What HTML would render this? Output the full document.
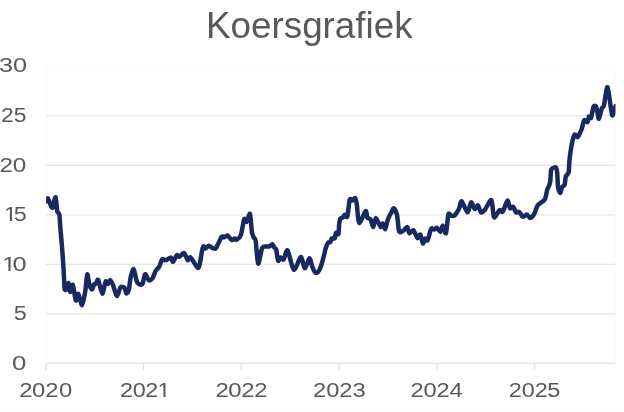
<!DOCTYPE html>
<html lang="nl">
<head>
<meta charset="utf-8">
<title>Koersgrafiek</title>
<style>
html,body{margin:0;padding:0;background:#fff;}
body{width:624px;height:412px;overflow:hidden;position:relative;font-family:"Liberation Sans",Arial,sans-serif;}
svg{position:absolute;left:0;top:0;display:block;}
.ttl{font-size:36.2px;fill:#595959;}
.lab text{font-size:21.1px;fill:#595959;}
.grid line{stroke:#e6e6e6;stroke-width:1.3;}
.axis line{stroke:#e1e1e1;stroke-width:1.3;}
.band{position:absolute;left:0;top:408px;width:624px;height:2px;background:#fdfcfa;}
</style>
</head>
<body>
<div class="band"></div>
<svg width="624" height="412" viewBox="0 0 624 412">
<rect x="46.1" y="66" width="569.1" height="297.2" fill="#fff" stroke="#fdfcf9" stroke-width="2"/>
<g class="grid"><line x1="46.1" x2="615.2" y1="115.7" y2="115.7"/><line x1="46.1" x2="615.2" y1="165.25" y2="165.25"/><line x1="46.1" x2="615.2" y1="214.8" y2="214.8"/><line x1="46.1" x2="615.2" y1="264.3" y2="264.3"/><line x1="46.1" x2="615.2" y1="313.85" y2="313.85"/></g>
<g class="axis"><line x1="46.1" x2="615.2" y1="363.3" y2="363.3"/><line x1="46.1" x2="46.1" y1="363.2" y2="370"/><line x1="143.6" x2="143.6" y1="363.2" y2="370"/><line x1="241.3" x2="241.3" y1="363.2" y2="370"/><line x1="339.0" x2="339.0" y1="363.2" y2="370"/><line x1="436.7" x2="436.7" y1="363.2" y2="370"/><line x1="534.5" x2="534.5" y1="363.2" y2="370"/></g>
<text class="ttl" x="309.3" y="37.8" text-anchor="middle" textLength="206.5" lengthAdjust="spacingAndGlyphs">Koersgrafiek</text>
<g class="lab"><text transform="translate(-0.89,71.75) scale(1.195,1)" x="0.00 11.65">30</text><text transform="translate(0.98,121.75) scale(1.086,1)" x="0.00 11.67">25</text><text transform="translate(-0.52,171.75) scale(1.15,1)" x="0.00 11.54">20</text><text transform="translate(4.09,221.1) scale(1.11,1)" x="0.00 8.62" clip-path="url(#nf0)">15</text><text transform="translate(1.93,270.8) scale(1.2,1)" x="0.00 8.90" clip-path="url(#nf1)">10</text><text transform="translate(13.66,320.3) scale(1.11,1)" x="0.00">5</text><text transform="translate(12.10,369.95) scale(1.219,1)" x="0.00">0</text><text transform="translate(19.26,397.25) scale(1.131,1)" x="0.00 11.36 22.97 35.06">2020</text><text transform="translate(120.03,397.25) scale(1.11,1)" x="0.00 11.37 22.74 33.86" clip-path="url(#nf2)">2021</text><text transform="translate(215.46,397.25) scale(1.133,1)" x="0.00 11.39 22.77 34.31">2022</text><text transform="translate(313.11,397.25) scale(1.124,1)" x="0.00 11.63 23.21 34.99">2023</text><text transform="translate(410.38,397.25) scale(1.126,1)" x="0.00 11.61 23.16 34.69">2024</text><text transform="translate(508.70,397.25) scale(1.11,1)" x="0.00 11.77 23.55 34.79">2025</text></g>
<defs><clipPath id="nf0"><path clip-rule="evenodd" d="M-40,-20 H80 V5 H-40 Z M0.62,-2.8 H5.28 V2 H0.62 Z M7.20,-2.2 H10.82 V2 H7.20 Z"/></clipPath><clipPath id="nf1"><path clip-rule="evenodd" d="M-40,-20 H80 V5 H-40 Z M0.62,-2.8 H5.28 V2 H0.62 Z M7.20,-2.2 H10.82 V2 H7.20 Z"/></clipPath><clipPath id="nf2"><path clip-rule="evenodd" d="M-40,-20 H80 V5 H-40 Z M34.48,-2.8 H39.14 V2 H34.48 Z M41.06,-2.8 H45.50 V2 H41.06 Z"/></clipPath><clipPath id="plotclip"><rect x="46.1" y="60" width="569.4" height="310"/></clipPath></defs>
<g clip-path="url(#plotclip)"><path d="M46.1,201.3 C46.34,200.91 47.22,197.73 47.9,198.4 C48.58,199.07 50.52,205.10 51.2,206.3 C51.88,207.50 52.63,207.97 53,207.4 C53.37,206.83 53.65,203.36 54,202 C54.35,200.64 55.24,196.67 55.6,197.2 C55.96,197.73 56.46,204.05 56.7,206 C56.94,207.95 57.04,210.65 57.4,211.8 C57.76,212.95 59.04,212.84 59.4,214.6 C59.76,216.36 59.78,221.03 60.1,225 C60.42,228.97 61.37,239.07 61.8,244.4 C62.23,249.73 62.99,260.25 63.3,265 C63.61,269.75 63.93,276.80 64.1,280 C64.27,283.20 64.35,287.73 64.6,289 C64.85,290.27 65.48,290.30 66,289.5 C66.52,288.70 67.97,282.67 68.5,283 C69.03,283.33 69.43,291.76 70,292 C70.57,292.24 72.03,283.68 72.8,284.8 C73.57,285.92 75.07,299.19 75.8,300.4 C76.53,301.61 77.46,293.27 78.3,293.9 C79.14,294.53 81.17,305.49 82.1,305.1 C83.03,304.71 84.61,295.11 85.3,291 C85.99,286.89 86.74,275.10 87.3,274.3 C87.86,273.50 88.86,282.99 89.5,285 C90.14,287.01 91.50,289.47 92.1,289.4 C92.70,289.33 93.48,285.29 94,284.5 C94.52,283.71 95.44,284.10 96,283.5 C96.56,282.90 97.36,278.64 98.2,280 C99.04,281.36 101.31,293.49 102.3,293.7 C103.29,293.91 104.84,282.89 105.6,281.6 C106.36,280.31 107.37,284.20 108,284 C108.63,283.80 109.63,279.97 110.3,280.1 C110.97,280.23 112.13,282.89 113,285 C113.87,287.11 115.80,295.58 116.8,295.9 C117.80,296.22 119.47,288.48 120.5,287.4 C121.53,286.32 123.73,287.00 124.5,287.8 C125.27,288.60 125.73,293.11 126.3,293.4 C126.87,293.69 128.23,292.12 128.8,290 C129.37,287.88 129.95,280.29 130.6,277.5 C131.25,274.71 132.90,268.63 133.7,269.1 C134.50,269.57 135.92,279.01 136.6,281 C137.28,282.99 138.03,283.60 138.8,284 C139.57,284.40 141.64,285.09 142.4,284 C143.16,282.91 144.06,277.08 144.5,275.8 C144.94,274.52 145.11,273.80 145.7,274.4 C146.29,275.00 147.97,279.82 148.9,280.3 C149.83,280.78 151.81,279.24 152.7,278 C153.59,276.76 154.73,272.51 155.6,271 C156.47,269.49 158.33,268.26 159.2,266.7 C160.07,265.14 161.22,260.15 162.1,259.3 C162.98,258.45 164.63,260.55 165.8,260.3 C166.97,260.05 169.93,257.20 170.9,257.4 C171.87,257.60 172.31,262.09 173.1,261.8 C173.89,261.51 175.97,255.87 176.8,255.2 C177.63,254.53 178.34,257.09 179.3,256.8 C180.26,256.51 182.88,252.56 184,253 C185.12,253.44 186.82,259.50 187.7,260.1 C188.58,260.70 189.28,256.49 190.6,257.5 C191.92,258.51 196.37,266.83 197.6,267.7 C198.83,268.57 199.20,266.29 199.8,264 C200.40,261.71 201.59,252.86 202.1,250.5 C202.61,248.14 203.13,246.58 203.6,246.3 C204.07,246.02 204.91,248.48 205.6,248.4 C206.29,248.32 207.88,245.75 208.8,245.7 C209.72,245.65 211.54,247.69 212.5,248 C213.46,248.31 214.79,249.48 216,248 C217.21,246.52 220.52,238.31 221.6,236.9 C222.68,235.49 223.33,237.59 224.1,237.4 C224.87,237.21 226.37,235.15 227.4,235.5 C228.43,235.85 230.83,239.60 231.8,240 C232.77,240.40 234.02,238.55 234.7,238.5 C235.38,238.45 236.07,240.07 236.9,239.6 C237.73,239.13 239.93,237.73 240.9,235 C241.87,232.27 243.41,220.86 244.2,219.1 C244.99,217.34 246.03,222.48 246.8,221.8 C247.57,221.12 249.32,212.64 250,214 C250.68,215.36 251.39,228.87 251.9,232 C252.41,235.13 253.29,236.30 253.8,237.5 C254.31,238.70 255.13,237.52 255.7,241 C256.27,244.48 257.26,262.60 258.1,263.6 C258.94,264.60 261.01,250.78 262,248.5 C262.99,246.22 264.57,246.77 265.5,246.5 C266.43,246.23 268.08,246.79 269,246.5 C269.92,246.21 271.69,244.17 272.4,244.3 C273.11,244.43 273.79,246.81 274.3,247.5 C274.81,248.19 275.69,247.74 276.2,249.5 C276.71,251.26 277.50,259.63 278.1,260.7 C278.70,261.77 279.97,257.66 280.7,257.5 C281.43,257.34 282.68,260.45 283.6,259.5 C284.52,258.55 286.24,249.03 287.6,250.4 C288.96,251.77 292.04,268.91 293.8,269.8 C295.56,270.69 299.33,257.30 300.8,257.1 C302.27,256.90 303.65,268.14 304.8,268.3 C305.95,268.46 308.41,258.54 309.4,258.3 C310.39,258.06 311.51,264.73 312.2,266.5 C312.89,268.27 313.96,270.75 314.6,271.6 C315.24,272.45 316.39,273.07 317,272.9 C317.61,272.73 318.60,271.42 319.2,270.3 C319.80,269.18 320.85,266.54 321.5,264.5 C322.15,262.46 323.54,257.16 324.1,255 C324.66,252.84 325.15,249.97 325.7,248.3 C326.25,246.63 327.57,243.33 328.2,242.5 C328.83,241.67 329.92,242.63 330.4,242.1 C330.88,241.57 331.21,239.03 331.8,238.5 C332.39,237.97 334.25,238.83 334.8,238.1 C335.35,237.37 335.42,233.53 335.9,233 C336.38,232.47 337.97,235.17 338.4,234.1 C338.83,233.03 338.86,227.05 339.1,225 C339.34,222.95 339.72,219.69 340.2,218.7 C340.68,217.71 342.07,218.13 342.7,217.6 C343.33,217.07 344.29,214.85 344.9,214.7 C345.51,214.55 346.66,218.50 347.3,216.5 C347.94,214.50 349.05,201.83 349.7,199.7 C350.35,197.57 351.48,200.70 352.2,200.5 C352.92,200.30 354.47,197.60 355.1,198.2 C355.73,198.80 356.37,201.71 356.9,205 C357.43,208.29 357.93,222.09 359.1,222.9 C360.27,223.71 364.61,211.81 365.7,211.1 C366.79,210.39 366.66,216.49 367.3,217.6 C367.94,218.71 369.70,218.15 370.5,219.4 C371.30,220.65 372.59,227.20 373.3,227 C374.01,226.80 374.83,217.91 375.8,217.9 C376.77,217.89 379.67,226.15 380.6,226.9 C381.53,227.65 382.17,223.21 382.8,223.5 C383.43,223.79 384.71,229.37 385.3,229.1 C385.89,228.83 386.67,223.22 387.2,221.5 C387.73,219.78 388.71,217.44 389.3,216.2 C389.89,214.96 391.00,213.25 391.6,212.2 C392.20,211.15 393.08,207.93 393.8,208.3 C394.52,208.67 396.33,212.11 397,215 C397.67,217.89 398.32,227.71 398.8,230 C399.28,232.29 399.92,232.16 400.6,232.2 C401.28,232.24 403.02,230.99 403.9,230.3 C404.78,229.61 406.47,226.60 407.2,227 C407.93,227.40 408.57,232.87 409.4,233.3 C410.23,233.73 412.33,229.57 413.4,230.2 C414.47,230.83 416.48,237.41 417.4,238 C418.32,238.59 419.57,233.88 420.3,234.6 C421.03,235.32 422.27,242.88 422.9,243.4 C423.53,243.92 424.37,238.93 425,238.5 C425.63,238.07 426.77,241.49 427.6,240.2 C428.43,238.91 430.32,230.21 431.2,228.8 C432.08,227.39 433.47,229.75 434.2,229.6 C434.93,229.45 435.89,227.41 436.7,227.7 C437.51,227.99 439.49,232.08 440.3,231.8 C441.11,231.52 442.04,225.41 442.8,225.6 C443.56,225.79 445.25,234.69 446,233.2 C446.75,231.71 447.67,216.71 448.4,214.4 C449.13,212.09 450.67,215.77 451.5,215.9 C452.33,216.03 453.80,215.99 454.6,215.4 C455.40,214.81 456.87,212.49 457.5,211.5 C458.13,210.51 458.74,209.36 459.3,208 C459.86,206.64 460.61,200.74 461.7,201.3 C462.79,201.86 466.25,212.05 467.5,212.2 C468.75,212.35 470.14,202.83 471.1,202.4 C472.06,201.97 473.79,208.63 474.7,209 C475.61,209.37 477.07,204.76 477.9,205.2 C478.73,205.64 479.97,211.70 480.9,212.3 C481.83,212.90 483.50,211.33 484.9,209.7 C486.30,208.07 490.19,199.10 491.4,200.1 C492.61,201.10 492.92,215.87 494,217.2 C495.08,218.53 498.34,210.85 499.5,210.1 C500.66,209.35 501.63,212.87 502.7,211.6 C503.77,210.33 506.53,201.04 507.5,200.6 C508.47,200.16 509.23,207.47 510,208.3 C510.77,209.13 512.51,206.27 513.3,206.8 C514.09,207.33 515.13,211.62 515.9,212.3 C516.67,212.98 518.18,211.31 519.1,211.9 C520.02,212.49 521.73,216.34 522.8,216.7 C523.87,217.06 526.10,214.41 527.1,214.6 C528.10,214.79 529.31,218.27 530.3,218.1 C531.29,217.93 533.51,215.01 534.5,213.3 C535.49,211.59 536.34,207.14 537.7,205.3 C539.06,203.46 543.43,201.54 544.7,199.5 C545.97,197.46 546.56,192.00 547.2,190 C547.84,188.00 549.07,185.83 549.5,184.5 C549.93,183.17 550.20,181.87 550.4,180 C550.60,178.13 550.75,172.06 551,170.5 C551.25,168.94 551.65,168.71 552.3,168.3 C552.95,167.89 555.25,166.77 555.9,167.4 C556.55,168.03 556.91,170.32 557.2,173 C557.49,175.68 557.67,184.83 558.1,187.5 C558.53,190.17 559.89,193.03 560.4,193 C560.91,192.97 561.34,188.39 561.9,187.3 C562.46,186.21 564.08,186.24 564.6,184.8 C565.12,183.36 565.27,178.17 565.8,176.5 C566.33,174.83 568.11,174.50 568.6,172.3 C569.09,170.10 569.09,163.69 569.5,160 C569.91,156.31 571.02,147.97 571.7,144.6 C572.38,141.23 573.79,135.73 574.6,134.7 C575.41,133.67 576.85,137.66 577.8,136.9 C578.75,136.14 580.85,131.21 581.7,129 C582.55,126.79 583.43,121.22 584.2,120.3 C584.97,119.38 586.87,122.58 587.5,122.1 C588.13,121.62 588.42,117.29 588.9,116.7 C589.38,116.11 590.49,119.02 591.1,117.7 C591.71,116.38 592.83,108.29 593.5,106.8 C594.17,105.31 595.58,105.81 596.1,106.5 C596.62,107.19 597.03,110.36 597.4,112 C597.77,113.64 598.33,119.25 598.9,118.8 C599.47,118.35 601.03,110.35 601.7,108.6 C602.37,106.85 603.11,108.55 603.9,105.7 C604.69,102.85 606.51,85.96 607.6,87.2 C608.69,88.44 611.03,112.47 612.1,115 C613.17,117.53 615.13,107.37 615.6,106.2" fill="none" stroke="#182960" stroke-width="4.5" stroke-linejoin="round" stroke-linecap="round"/></g>
</svg>
</body>
</html>
